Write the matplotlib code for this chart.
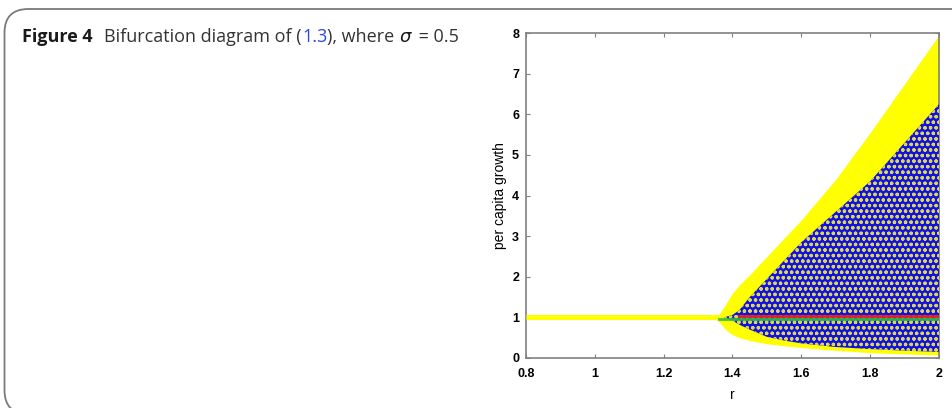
import matplotlib
matplotlib.use("Agg")
import matplotlib.pyplot as plt
from matplotlib.patches import FancyBboxPatch
import numpy as np

# ---- data ----
r_flat = [0.8, 1.36]
v_flat = [1.0, 1.0]

r_yellow = [1.345, 1.36, 1.38, 1.40, 1.42, 1.45, 1.50, 1.55, 1.60, 1.65, 1.70, 1.80, 1.90, 2.00]
yellow_upper = [1.0, 1.06, 1.32, 1.6, 1.8, 2.05, 2.5, 2.95, 3.4, 3.9, 4.4, 5.55, 6.75, 7.95]
yellow_lower = [1.0, 0.9, 0.7, 0.57, 0.5, 0.43, 0.35, 0.30, 0.26, 0.22, 0.19, 0.13, 0.10, 0.07]

r_blue = [1.375, 1.40, 1.42, 1.45, 1.50, 1.55, 1.60, 1.70, 1.80, 1.90, 2.00]
blue_upper = [1.0, 1.06, 1.18, 1.5, 1.95, 2.4, 2.85, 3.6, 4.35, 5.3, 6.25]
blue_lower = [1.0, 0.92, 0.82, 0.7, 0.52, 0.43, 0.36, 0.27, 0.22, 0.18, 0.15]

r_green = [1.36, 2.0]
v_green = [0.97, 0.97]
r_red = [1.42, 2.0]
v_red = [1.03, 1.03]

x_ticks = [0.8, 1, 1.2, 1.4, 1.6, 1.8, 2]
x_ticklabels = ["0.8", "1", "1.2", "1.4", "1.6", "1.8", "2"]
y_ticks = [0, 1, 2, 3, 4, 5, 6, 7, 8]

plt.rcParams["hatch.linewidth"] = 0.9

W, H = 953, 408
fig = plt.figure(figsize=(W / 100, H / 100), dpi=100)

# rounded frame
frame = FancyBboxPatch((4.5 / W, -6 / H), (W + 20) / W, (H - 9 + 6) / H,
                       boxstyle="round,pad=0,rounding_size=0.025",
                       transform=fig.transFigure, fill=False,
                       edgecolor="#7a7a7a", linewidth=1.3, mutation_aspect=W / H)
fig.add_artist(frame)

# caption composed of pieces
pieces = [
    ("Figure 4", dict(fontweight="bold", color="#1a1a1a"), 0),
    ("Bifurcation diagram of (", dict(color="#333333"), 12),
    ("1.3", dict(color="#2b4bd6"), 0),
    ("), where ", dict(color="#333333"), 0),
    (r"$\sigma$", dict(color="#1a1a1a"), 0),
    (" = 0.5", dict(color="#333333"), 1),
]
fig.canvas.draw()
renderer = fig.canvas.get_renderer()
xpos = 22.0
ybase = H - 42.0
for txt, kw, gap in pieces:
    xpos += gap
    t = fig.text(xpos / W, ybase / H, txt, fontsize=13, family="Open Sans",
                 va="baseline", ha="left", **kw)
    bb = t.get_window_extent(renderer=renderer)
    xpos = bb.x1

ax = fig.add_axes([526 / W, (H - 358) / H, 413 / W, 325 / H])

ax.fill_between(r_yellow, yellow_lower, yellow_upper, color="#ffff00", linewidth=0, zorder=2)
ax.plot(r_flat, v_flat, color="#ffff00", linewidth=3.6, solid_capstyle="butt", zorder=3)
ax.fill_between(r_blue, blue_lower, blue_upper, facecolor="#1212e6", edgecolor="#dcd84a",
                hatch="ooo", linewidth=0, zorder=3)
ax.plot(r_green, v_green, color="#30c040", linewidth=2.0, alpha=0.9, zorder=4)
ax.plot(r_red, v_red, color="#e02020", linewidth=2.0, zorder=5)

ax.set_xlim(0.8, 2)
ax.set_ylim(0, 8)
ax.set_xticks(x_ticks)
ax.set_xticklabels(x_ticklabels)
ax.set_yticks(y_ticks)
for s in ax.spines.values():
    s.set_color("#808080")
    s.set_linewidth(1.2)
ax.tick_params(direction="in", length=3, width=0.8, color="#808080",
               top=True, right=True, labelsize=9)
ax.tick_params(axis="x", pad=7)
ax.tick_params(axis="y", pad=5)
for lab in ax.get_xticklabels() + ax.get_yticklabels():
    lab.set_fontweight("bold")
    lab.set_family("Liberation Sans")
ax.set_xlabel("r", fontsize=10, family="Liberation Sans", labelpad=6)
ax.set_ylabel("per capita growth", fontsize=10, family="Liberation Sans", labelpad=3.5)

fig.savefig("out.png", dpi=100)
